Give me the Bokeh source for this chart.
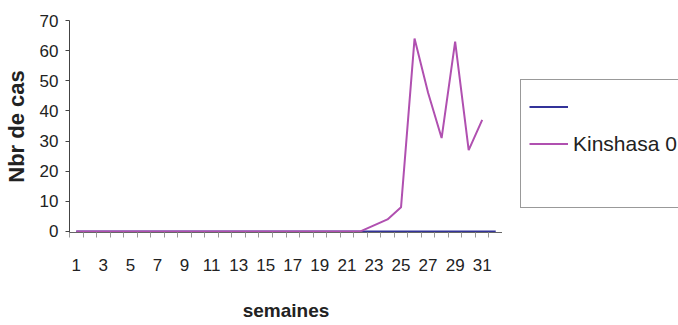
from bokeh.plotting import figure
from bokeh.layouts import row
from bokeh.models import Range1d, FixedTicker, Legend, LegendItem
from bokeh.embed import file_html
from bokeh.resources import INLINE

weeks = [1, 2, 3, 4, 5, 6, 7, 8, 9, 10, 11, 12, 13, 14, 15, 16,
         17, 18, 19, 20, 21, 22, 23, 24, 25, 26, 27, 28, 29, 30, 31, 32]
serie_bleue = [0, 0, 0, 0, 0, 0, 0, 0, 0, 0, 0, 0, 0, 0, 0, 0,
               0, 0, 0, 0, 0, 0, 0, 0, 0, 0, 0, 0, 0, 0, 0, 0]
weeks_kin = [1, 2, 3, 4, 5, 6, 7, 8, 9, 10, 11, 12, 13, 14, 15, 16,
             17, 18, 19, 20, 21, 22, 23, 24, 25, 26, 27, 28, 29, 30, 31]
kinshasa = [0, 0, 0, 0, 0, 0, 0, 0, 0, 0, 0, 0, 0, 0, 0, 0,
            0, 0, 0, 0, 0, 0, 2, 4, 8, 64, 46, 31, 63, 27, 37]
x_ticks = [1, 3, 5, 7, 9, 11, 13, 15, 17, 19, 21, 23, 25, 27, 29, 31]
y_ticks = [0, 10, 20, 30, 40, 50, 60, 70]
x_bounds = [0.5 + i for i in range(33)]

FONT = "Liberation Sans"
BLUE = "#333399"
PURPLE = "#b050b0"

p = figure(width=502, height=325, output_backend="svg", toolbar_location=None,
           x_range=Range1d(0.5, 32.5), y_range=Range1d(-0.35, 70),
           min_border_left=68, min_border_right=0, min_border_top=20,
           min_border_bottom=93)
p.outline_line_color = None
p.xgrid.visible = False
p.ygrid.visible = False
p.background_fill_color = "white"

p.line(weeks, serie_bleue, line_color=BLUE, line_width=2)
p.line(weeks_kin, kinshasa, line_color=PURPLE, line_width=2)

xa = p.xaxis[0]
xa.ticker = FixedTicker(ticks=x_ticks, minor_ticks=x_bounds)
xa.major_tick_line_color = None
xa.major_tick_out = 0
xa.major_tick_in = 0
xa.minor_tick_out = 5
xa.minor_tick_in = 0
xa.minor_tick_line_color = "#999999"
xa.axis_line_color = "#666666"
xa.major_label_text_font = FONT
xa.major_label_text_font_size = "17px"
xa.major_label_text_color = "#222222"
xa.major_label_standoff = 21
xa.axis_label = "semaines"
xa.axis_label_text_font = FONT
xa.axis_label_text_font_style = "bold"
xa.axis_label_text_font_size = "19px"
xa.axis_label_text_color = "#222222"
xa.axis_label_standoff = 26

ya = p.yaxis[0]
ya.ticker = FixedTicker(ticks=y_ticks)
ya.minor_tick_line_color = None
ya.major_tick_out = 4
ya.major_tick_in = 0
ya.major_tick_line_color = "#444444"
ya.axis_line_color = "#444444"
ya.major_label_text_font = FONT
ya.major_label_text_font_size = "17px"
ya.major_label_text_color = "#222222"
ya.major_label_standoff = 7
ya.axis_label = "Nbr de cas"
ya.axis_label_text_font = FONT
ya.axis_label_text_font_style = "bold"
ya.axis_label_text_font_size = "22px"
ya.axis_label_text_color = "#222222"
ya.axis_label_standoff = 8

# legend panel (right side, box runs off the window edge like the reference)
q = figure(width=176, height=325, output_backend="svg", toolbar_location=None,
           x_range=Range1d(0, 1), y_range=Range1d(0, 1),
           min_border_left=0, min_border_right=0, min_border_top=0,
           min_border_bottom=0)
q.axis.visible = False
q.grid.visible = False
q.outline_line_color = None
lb = q.line(weeks, serie_bleue, line_color=BLUE, line_width=2, visible=False)
lk = q.line(weeks_kin, kinshasa, line_color=PURPLE, line_width=2, visible=False)
l0 = q.line(weeks, serie_bleue, line_alpha=0, visible=False)

legend = Legend(items=[
    LegendItem(label=" ", renderers=[lb]),
    LegendItem(label="Kinshasa 0", renderers=[lk]),
    LegendItem(label=" ", renderers=[l0]),
], location=(18, 24), margin=0, padding=8, spacing=0,
    glyph_width=39, glyph_height=37, label_standoff=5,
    label_text_font=FONT, label_text_font_size="21px", label_text_color="#222222",
    border_line_color="#333333", border_line_width=1,
    background_fill_color="white", background_fill_alpha=1.0)
q.add_layout(legend, "center")

layout = row(p, q)
open("out.html", "w").write(file_html(layout, INLINE))
